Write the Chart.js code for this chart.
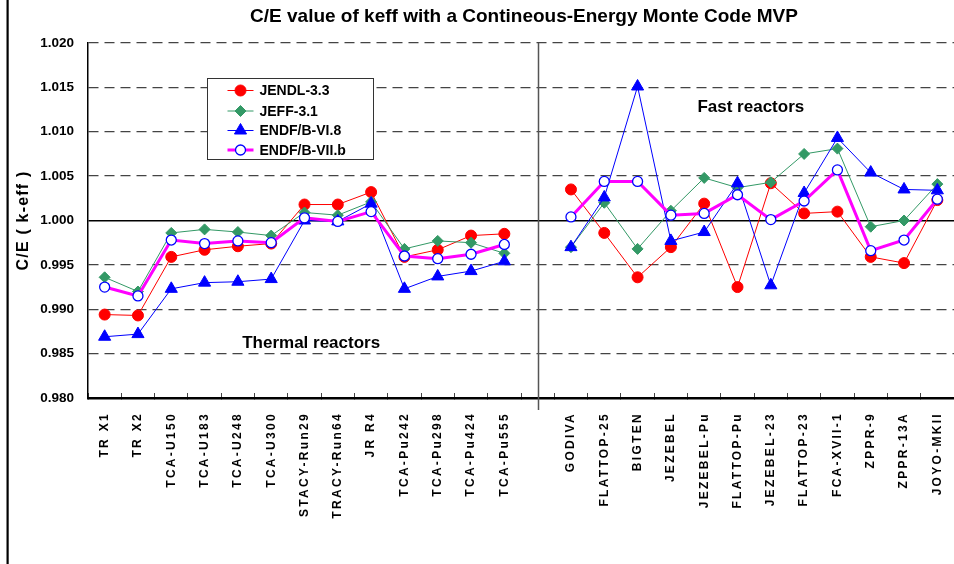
<!DOCTYPE html>
<html><head><meta charset="utf-8">
<script src="https://cdn.jsdelivr.net/npm/chart.js@4"></script>
<style>
html,body{margin:0;padding:0;overflow:hidden;background:#fff;width:954px;height:564px}
#wrap{position:relative;width:954px;height:564px;overflow:hidden}
canvas{display:block}
</style></head>
<body><div id="wrap"><canvas id="c" width="962" height="564"></canvas></div>
<script>
const categories = ['TR X1','TR X2','TCA-U150','TCA-U183','TCA-U248','TCA-U300','STACY-Run29','TRACY-Run64','JR R4','TCA-Pu242','TCA-Pu298','TCA-Pu424','TCA-Pu555','',
  'GODIVA','FLATTOP-25','BIGTEN','JEZEBEL','JEZEBEL-Pu','FLATTOP-Pu','JEZEBEL-23','FLATTOP-23','FCA-XVII-1','ZPPR-9','ZPPR-13A','JOYO-MKII'];
const jendl33 = [0.9894,0.9893,0.9959,0.9967,0.9971,0.9974,1.0018,1.0018,1.0032,0.9959,0.9967,0.9983,0.9985,null,
  1.0035,0.9986,0.9936,0.9970,1.0019,0.9925,1.0042,1.0008,1.0010,0.9959,0.9952,1.0023];
const jeff31 = [0.9936,0.9920,0.9986,0.9990,0.9987,0.9983,1.0009,1.0006,1.0021,0.9968,0.9977,0.9975,0.9963,null,
  0.9970,1.0020,0.9968,1.0011,1.0048,1.0037,1.0043,1.0075,1.0081,0.9993,1.0000,1.0041];
const endf68 = [0.9869,0.9872,0.9923,0.9930,0.9931,0.9934,1.0000,0.9999,1.0019,0.9923,0.9937,0.9943,0.9954,null,
  0.9970,1.0026,1.0151,0.9977,0.9987,1.0042,0.9927,1.0031,1.0093,1.0054,1.0035,1.0034];
const endf7b = [0.9925,0.9915,0.9978,0.9974,0.9977,0.9975,1.0003,0.9999,1.0010,0.9960,0.9957,0.9962,0.9973,null,
  1.0004,1.0044,1.0044,1.0006,1.0008,1.0029,1.0001,1.0022,1.0057,0.9966,0.9978,1.0024];
const yTickValues = [0.980,0.985,0.990,0.995,1.000,1.005,1.010,1.015,1.020];
const seriesNames = ['JENDL-3.3','JEFF-3.1','ENDF/B-VI.8','ENDF/B-VII.b'];
const titleText = 'C/E value of keff with a Contineous-Energy Monte Code MVP';
const yTitleText = 'C/E ( k-eff )';
const regionNotes = [{text:'Thermal reactors', at:6.2, value:0.9862},{text:'Fast reactors', at:19.4, value:1.0127}];

const FONT = '"Liberation Sans", Arial, Helvetica, sans-serif';
const isOne = v => Math.abs(v - 1) < 1e-9;

const styles = [
  {color:'#ff0000', width:1, style:'circle', r:5.5, fill:'#ff0000', border:'#ff0000', bw:1},
  {color:'#339966', width:1, style:'rectRot', r:5.5, fill:'#339966', border:'#339966', bw:1},
  {color:'#0000ff', width:1, style:'triangle', r:7, fill:'#0000ff', border:'#0000ff', bw:1},
  {color:'#ff00ff', width:3, style:'circle', r:5, fill:'#ffffff', border:'#0000ff', bw:1.3}
];
const dataArr = [jendl33, jeff31, endf68, endf7b];

function drawMarker(ctx, s, x, y){
  ctx.save();
  ctx.fillStyle = s.fill; ctx.strokeStyle = s.border; ctx.lineWidth = s.bw;
  ctx.beginPath();
  if (s.style === 'circle') { ctx.arc(x, y, s.r, 0, Math.PI*2); }
  else if (s.style === 'rectRot') { ctx.moveTo(x, y-s.r); ctx.lineTo(x+s.r, y); ctx.lineTo(x, y+s.r); ctx.lineTo(x-s.r, y); ctx.closePath(); }
  else { for (let k=0;k<3;k++){ const a = k*2*Math.PI/3; const px = x+Math.sin(a)*s.r, py = y-Math.cos(a)*s.r; k?ctx.lineTo(px,py):ctx.moveTo(px,py);} ctx.closePath(); }
  ctx.fill(); ctx.stroke();
  ctx.restore();
}

const decor = {
  id:'decor',
  beforeDraw(chart){
    const ctx = chart.ctx;
    ctx.save(); ctx.fillStyle='#fff'; ctx.fillRect(0,0,chart.width,chart.height); ctx.restore();
    const xs = chart.scales.x, ys = chart.scales.y;
    if (!xs._lsPatched){ const o = xs.drawLabels; xs.drawLabels = function(a){ ctx.save(); ctx.letterSpacing='2.3px'; o.call(this,a); ctx.restore(); }; xs._lsPatched = true; }
    if (!ys._lsPatched){ const o = ys.drawTitle; ys.drawTitle = function(){ ctx.save(); ctx.letterSpacing='1.2px'; o.call(this); ctx.restore(); }; ys._lsPatched = true; }
  },
  afterDraw(chart){
    const ctx = chart.ctx, ca = chart.chartArea, xs = chart.scales.x, ys = chart.scales.y;
    const sx = Math.round(xs.getPixelForValue(13)) + 0.5;
    ctx.save(); ctx.strokeStyle='#555'; ctx.lineWidth=1.5;
    ctx.beginPath(); ctx.moveTo(sx, ca.top); ctx.lineTo(sx, ca.bottom+12); ctx.stroke(); ctx.restore();
    ctx.save(); ctx.fillStyle='#000'; ctx.font='bold 19px '+FONT; ctx.textAlign='center'; ctx.textBaseline='middle';
    ctx.fillText(titleText, (ca.left+ca.right)/2 + 3, 17);
    ctx.font='bold 17px '+FONT;
    regionNotes.forEach(n => ctx.fillText(n.text, xs.getPixelForValue(n.at), ys.getPixelForValue(n.value)));
    ctx.restore();
    const bx = ca.left + 119.5, by = ca.top + 35.5, bw = 166, bh = 81;
    ctx.save();
    ctx.fillStyle='#fff'; ctx.fillRect(bx, by, bw, bh);
    ctx.strokeStyle='#333'; ctx.lineWidth=1; ctx.strokeRect(bx, by, bw, bh);
    const rows = [12, 32.5, 52, 71.5];
    seriesNames.forEach((name, i) => {
      const s = styles[i], y = by + rows[i];
      ctx.strokeStyle = s.color; ctx.lineWidth = s.width;
      ctx.beginPath(); ctx.moveTo(bx+20, y); ctx.lineTo(bx+46, y); ctx.stroke();
      drawMarker(ctx, s, bx+33, y);
      ctx.fillStyle='#000'; ctx.font='bold 14px '+FONT; ctx.textAlign='left'; ctx.textBaseline='middle';
      ctx.fillText(name, bx+52, y+1);
    });
    ctx.restore();
    ctx.save(); ctx.fillStyle='#000'; ctx.fillRect(6.5, 0, 2.2, chart.height); ctx.restore();
  }
};

const datasets = dataArr.map((d, i) => ({
  label: seriesNames[i], data: d,
  borderColor: styles[i].color, backgroundColor: styles[i].fill, borderWidth: styles[i].width,
  pointStyle: styles[i].style, pointRadius: styles[i].r, pointHoverRadius: styles[i].r,
  pointBackgroundColor: styles[i].fill, pointBorderColor: styles[i].border, pointBorderWidth: styles[i].bw,
  tension: 0, spanGaps: false, fill: false, order: 4 - i
}));

new Chart(document.getElementById('c'), {
  type: 'line',
  data: { labels: categories, datasets },
  plugins: [decor],
  options: {
    responsive: false, animation: false,
    layout: { padding: { top: 43, right: 4, left: 0, bottom: 0 } },
    plugins: { legend: { display: false }, tooltip: { enabled: false }, title: { display: false } },
    scales: {
      x: {
        type: 'category', offset: true,
        grid: { offset: true, drawOnChartArea: false, drawTicks: true, tickLength: -5, tickColor: '#444', tickWidth: 1 },
        border: { color: '#000', width: 2.5 },
        ticks: { autoSkip: false, maxRotation: 90, minRotation: 90, color: '#000', padding: 19,
                 font: { family: FONT, weight: 'bold', size: 12 } },
        afterFit(s){ s.height = 166; s.paddingLeft = 0; s.paddingRight = 0; }
      },
      y: {
        min: 0.98, max: 1.02,
        afterBuildTicks(s){ s.ticks = yTickValues.map(v => ({ value: v })); },
        ticks: { callback: v => Number(v).toFixed(3), color: '#000', padding: 14,
                 font: { family: FONT, weight: 'bold', size: 13.5 } },
        grid: { drawTicks: false,
                color: c => (c.tick && isOne(c.tick.value)) ? '#000' : '#444',
                lineWidth: c => (c.tick && isOne(c.tick.value)) ? 1.5 : 1.3 },
        border: { display: true, color: '#000', width: 1.5,
                  dash: c => (c.tick && !isOne(c.tick.value)) ? [10, 6] : [] },
        title: { display: true, text: yTitleText, color: '#000', padding: { top: 14, bottom: 0 },
                 font: { family: FONT, weight: 'bold', size: 16 } },
        afterFit(s){ s.width = 88; }
      }
    }
  }
});
</script>
</body></html>
